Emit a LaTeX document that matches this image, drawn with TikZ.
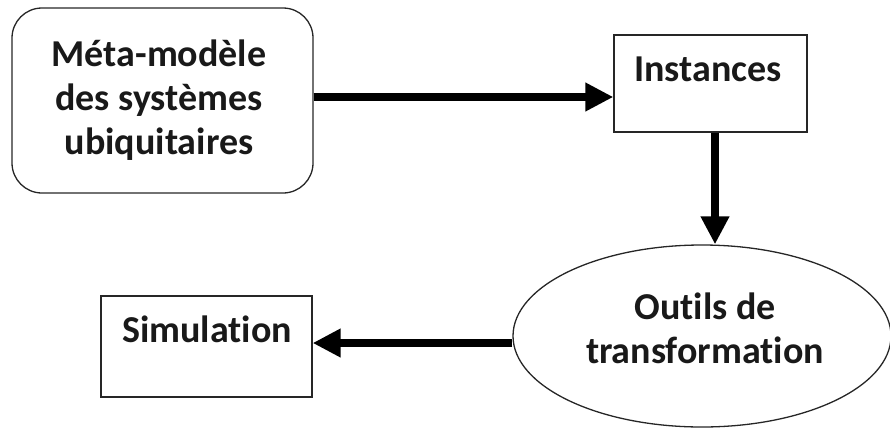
\documentclass[tikz,border=0pt]{standalone}
\usepackage{fontspec}
\setmainfont[Ligatures={NoCommon,NoRequired,NoContextual}]{Carlito}
\usetikzlibrary{arrows.meta,shapes.geometric}
\tikzset{
  box/.style={draw=black!85, line width=1.3pt, inner sep=0pt},
  lbl/.style={font=\bfseries\fontsize{38}{44}\selectfont, align=center, inner sep=0pt, text=black!90},
  bigarrow/.style={line width=8pt, -{Triangle[length=28pt,width=27pt]}}
}
\begin{document}
\begin{tikzpicture}[x=1pt,y=-1pt]
\useasboundingbox (0,0) rectangle (890,431);
% boxes
\node[box, rounded corners=30pt, minimum width=301pt, minimum height=185pt] (meta) at (162.5,100.5) {};
\node[box, minimum width=193pt, minimum height=97pt] (inst) at (710.5,83.5) {};
\node[box, ellipse, minimum width=378pt, minimum height=182pt] (outils) at (702,336) {};
\node[box, minimum width=211pt, minimum height=101pt] (sim) at (206.5,346.5) {};
% texts
\node[lbl] (metat) at (159,100) {Méta-modèle\\des systèmes\\ubiquitaires};
\node[lbl] (instt) at (708,69) {Instances};
\node[lbl] (outilst) at (705,328) {Outils de\\transformation};
\node[lbl] (simt) at (207,329) {Simulation};
% arrows
\draw[bigarrow] (meta.east |- 0,97) -- (inst.west |- 0,97);
\draw[bigarrow] (inst.south -| 715,0) -- (outils.north -| 715,0);
\draw[bigarrow] (outils.west |- 0,343) -- (sim.east |- 0,343);
\end{tikzpicture}
\end{document}
